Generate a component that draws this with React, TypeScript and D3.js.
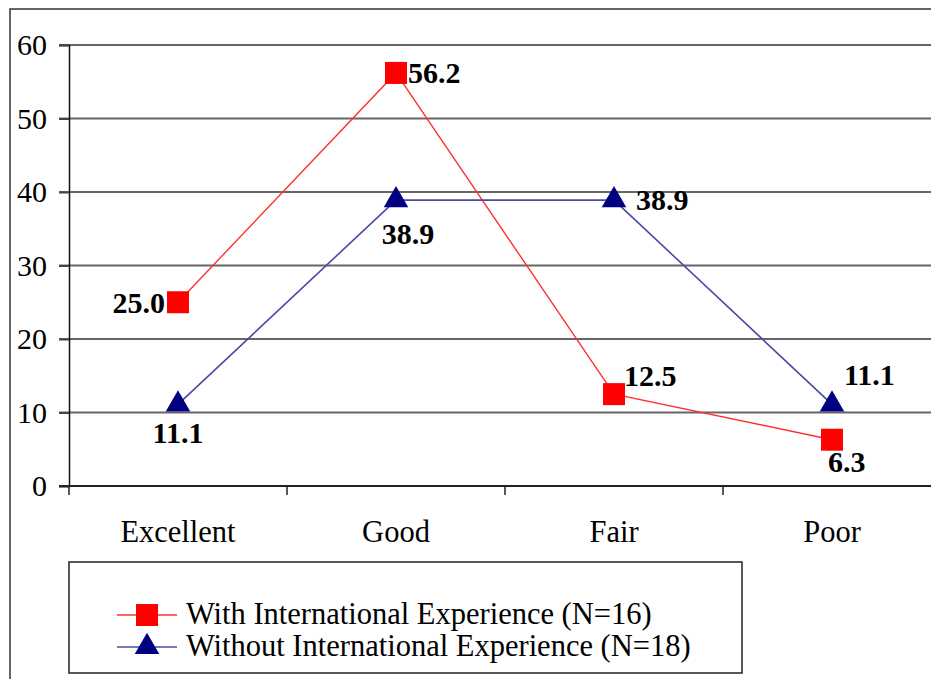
import React, { useEffect, useRef } from 'react';
import * as d3 from 'd3';

const categories = ['Excellent', 'Good', 'Fair', 'Poor'];
const withIntl = [25.0, 56.2, 12.5, 6.3];
const withoutIntl = [11.1, 38.9, 38.9, 11.1];
const yTicks = [0, 10, 20, 30, 40, 50, 60];
const seriesNames = [
  'With International Experience (N=16)',
  'Without International Experience (N=18)',
];

// label offsets relative to the marker [dx, dy, anchor]
const withLabelPos: [number, number, string][] = [
  [-13, 11, 'end'],
  [12, 10, 'start'],
  [10, -8, 'start'],
  [-4, 32, 'start'],
];
const withoutLabelPos: [number, number, string][] = [
  [0, 39, 'middle'],
  [12, 44, 'middle'],
  [22, 10, 'start'],
  [12, -19, 'start'],
];

const FONT = "'Liberation Serif', 'Times New Roman', 'DejaVu Serif', serif";
const FS = 30.5;

const App: React.FC = () => {
  const svgRef = useRef<SVGSVGElement>(null);

  useEffect(() => {
    if (!svgRef.current) return;
    const svg = d3.select(svgRef.current);
    svg.selectAll('*').remove();

    const width = 931;
    const height = 679;

    svg.append('rect')
      .attr('width', width)
      .attr('height', height)
      .attr('fill', '#fff');

    // outer chart border (right/bottom run off the page)
    svg.append('rect')
      .attr('x', 10)
      .attr('y', 9)
      .attr('width', 960)
      .attr('height', 720)
      .attr('fill', 'none')
      .attr('stroke', '#333')
      .attr('stroke-width', 1.5);

    const x = d3.scaleBand<string>().domain(categories).range([69, 941]);
    const y = d3.scaleLinear().domain([0, 60]).range([486, 45]);
    const cx = (c: string) => (x(c) as number) + x.bandwidth() / 2;

    // gridlines
    svg.append('g')
      .selectAll('line')
      .data(yTicks.filter(t => t > 0))
      .join('line')
      .attr('x1', 59)
      .attr('x2', width)
      .attr('y1', d => y(d))
      .attr('y2', d => y(d))
      .attr('stroke', '#666')
      .attr('stroke-width', 2.2);

    // y axis
    const yAxis = svg.append('g')
      .attr('transform', 'translate(69,0)')
      .call(d3.axisLeft(y).tickValues(yTicks).tickSize(10).tickPadding(12));
    yAxis.attr('font-family', null).attr('font-size', null);
    yAxis.select('.domain').attr('stroke', '#111').attr('stroke-width', 1.5);
    yAxis.selectAll('.tick line').attr('stroke', '#444').attr('stroke-width', 2);
    yAxis.selectAll('.tick text')
      .style('font-family', FONT)
      .style('font-size', '30px')
      .attr('fill', '#000');

    // x axis
    svg.append('line')
      .attr('x1', 59)
      .attr('x2', width)
      .attr('y1', y(0))
      .attr('y2', y(0))
      .attr('stroke', '#222')
      .attr('stroke-width', 1.8);

    svg.append('g')
      .selectAll('line')
      .data(categories)
      .join('line')
      .attr('x1', d => x(d) as number)
      .attr('x2', d => x(d) as number)
      .attr('y1', y(0))
      .attr('y2', y(0) + 9)
      .attr('stroke', '#222')
      .attr('stroke-width', 1.5);

    svg.append('g')
      .selectAll('text')
      .data(categories)
      .join('text')
      .attr('x', d => cx(d))
      .attr('y', 542)
      .attr('text-anchor', 'middle')
      .style('font-family', FONT)
      .style('font-size', `${FS}px`)
      .text(d => d);

    const line = d3.line<number>()
      .x((_, i) => cx(categories[i]))
      .y(d => y(d));

    svg.append('path')
      .attr('d', line(withIntl) as string)
      .attr('fill', 'none')
      .attr('stroke', '#ff3030')
      .attr('stroke-width', 1.4);

    svg.append('path')
      .attr('d', line(withoutIntl) as string)
      .attr('fill', 'none')
      .attr('stroke', '#4a4aa8')
      .attr('stroke-width', 1.6);

    const sq = d3.symbol().type(d3.symbolSquare).size(22 * 22);
    const tri = d3.symbol().type(d3.symbolTriangle).size(260);

    svg.append('g')
      .selectAll('path')
      .data(withoutIntl)
      .join('path')
      .attr('transform', (d, i) => `translate(${cx(categories[i])},${y(d)})`)
      .attr('d', tri() as string)
      .attr('fill', '#000080');

    svg.append('g')
      .selectAll('path')
      .data(withIntl)
      .join('path')
      .attr('transform', (d, i) => `translate(${cx(categories[i])},${y(d)})`)
      .attr('d', sq() as string)
      .attr('fill', '#ff0000');

    // data labels
    const addLabels = (vals: number[], pos: [number, number, string][]) => {
      svg.append('g')
        .selectAll('text')
        .data(vals)
        .join('text')
        .attr('x', (d, i) => cx(categories[i]) + pos[i][0])
        .attr('y', (d, i) => y(d) + pos[i][1])
        .attr('text-anchor', (d, i) => pos[i][2])
        .style('font-family', FONT)
        .style('font-size', '30px')
        .style('font-weight', 'bold')
        .text(d => d.toFixed(1));
    };
    addLabels(withIntl, withLabelPos);
    addLabels(withoutIntl, withoutLabelPos);

    // legend
    const legend = svg.append('g');
    legend.append('rect')
      .attr('x', 69)
      .attr('y', 562)
      .attr('width', 673)
      .attr('height', 111)
      .attr('fill', '#fff')
      .attr('stroke', '#222')
      .attr('stroke-width', 1.5);

    const legendColors = ['#ff3030', '#4a4aa8'];
    const markerColors = ['#ff0000', '#000080'];
    seriesNames.forEach((name, i) => {
      const ly = 615 + i * 32;
      legend.append('line')
        .attr('x1', 117)
        .attr('x2', 177)
        .attr('y1', ly)
        .attr('y2', ly)
        .attr('stroke', legendColors[i])
        .attr('stroke-width', 1.6);
      legend.append('path')
        .attr('transform', `translate(147,${ly})`)
        .attr('d', (i === 0 ? sq() : tri()) as string)
        .attr('fill', markerColors[i]);
      legend.append('text')
        .attr('x', 186)
        .attr('y', ly + 9)
        .style('font-family', FONT)
        .style('font-size', `${FS}px`)
        .text(name);
    });
  }, []);

  return (
    <svg
      ref={svgRef}
      width={931}
      height={679}
      style={{ position: 'fixed', left: 0, top: 0, display: 'block' }}
    />
  );
};

export default App;
